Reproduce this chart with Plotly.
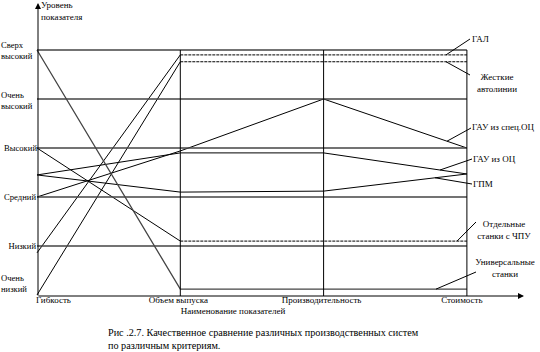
import numpy as np
import plotly.graph_objects as go

# ---------------- data ----------------
criteria = ["Гибкость", "Объем выпуска", "Производительность", "Стоимость"]
level_labels = ["Очень<br>низкий", "Низкий", "Средний", "Высокий", "Очень<br>высокий", "Сверх<br>высокий"]

gal = [0.86, 4.90, 4.90, 4.90]          # ГАЛ
zhest = [0.0, 4.76, 4.76, 4.76]         # Жесткие автолинии
gau_spec = [2.0, 2.94, 4.0, 3.0]        # ГАУ из спец.ОЦ
gau_oc = [2.45, 2.90, 2.90, 2.47]       # ГАУ из ОЦ
gpm = [2.45, 2.10, 2.12, 2.47]          # ГПМ
chpu = [3.0, 1.10, 1.10, 1.10]          # Отдельные станки с ЧПУ
univ = [5.0, 0.12, 0.12, 0.12]          # Универсальные станки

series_names = ["ГАЛ", "Жесткие<br>автолинии", "ГАУ из спец.ОЦ", "ГАУ из ОЦ", "ГПМ",
                "Отдельные<br>станки с ЧПУ", "Универсальные<br>станки"]
series_vals = [gal, zhest, gau_spec, gau_oc, gpm, chpu, univ]

x_title = "Наименование показателей"
y_title = "Уровень<br>показателя"
caption = "Рис .2.7. Качественное сравнение различных производственных систем<br>по различным критериям."

# ---------------- layout helpers ----------------
W, H = 540, 352
X0, UX = 37.0, 143.3      # pixel of x=0, pixels per category
Y0, UY = 295.0, 49.0      # pixel of level 0, pixels per level


def X(px):
    return (px - X0) / UX


def Y(py):
    return (Y0 - py) / UY


FONT = "Liberation Serif, Times New Roman, serif"
xs = list(range(len(criteria)))

dashed = {0, 1, 5}
styles = {6: dict(color="#444", width=1.3)}

fig = go.Figure()

# grid lines
shapes = []
for lv in range(1, len(level_labels)):
    shapes.append(dict(type="line", xref="x", yref="y", x0=0, x1=xs[-1], y0=lv, y1=lv,
                       line=dict(color="#444", width=1.3)))
for xi in xs[1:]:
    shapes.append(dict(type="line", xref="x", yref="y", x0=xi, x1=xi, y0=Y(296), y1=len(level_labels) - 1,
                       line=dict(color="black", width=1)))

# series
for i, vals in enumerate(series_vals):
    st = styles.get(i, dict(color="black", width=1))
    if i in dashed:
        fig.add_trace(go.Scatter(x=xs[:2], y=vals[:2], mode="lines", line=dict(color="black", width=1),
                                 hoverinfo="skip"))
        fig.add_trace(go.Scatter(x=xs[1:], y=vals[1:], mode="lines",
                                 line=dict(color="black", width=1, dash="3px,1px"), hoverinfo="skip"))
    else:
        fig.add_trace(go.Scatter(x=xs, y=vals, mode="lines", line=st, hoverinfo="skip"))


def text(px, py, s, pos="middle right", size=9):
    fig.add_trace(go.Scatter(x=[X(px)], y=[Y(py)], mode="text", text=[s], textposition=pos,
                             textfont=dict(family=FONT, size=size, color="black"), hoverinfo="skip"))


# leader lines + series labels
leaders = [
    (446, (470, 39), (472, 40), "middle right"),
    (446, (470, 75), (497, 84), "middle center"),
    (447, (471, 128), (472, 128), "middle right"),
    (440, (472, 159), (473, 160), "middle right"),
    (435, (472, 184), (473, 185), "middle right"),
    (457, (476, 222), (504, 231), "middle center"),
    (436, (476, 272), (505, 269), "middle center"),
]
annotations = []
for i, (sx, (ex, ey), (tx, ty), pos) in enumerate(leaders):
    vx = X(sx)
    vy = float(np.interp(vx, xs, series_vals[i]))
    shapes.append(dict(type="line", xref="x", yref="y", x0=vx, y0=vy, x1=X(ex), y1=Y(ey),
                       line=dict(color="black", width=1)))
    text(tx, ty, series_names[i], pos=pos)

# axes with arrows
annotations.append(dict(x=X(38), y=Y(3), ax=X(38), ay=Y(297), xref="x", yref="y", axref="x", ayref="y",
                        text="", showarrow=True, arrowhead=2, arrowsize=1.2, arrowwidth=1, arrowcolor="black"))
annotations.append(dict(x=X(524), y=Y(296), ax=X(37), ay=Y(296), xref="x", yref="y", axref="x", ayref="y",
                        text="", showarrow=True, arrowhead=2, arrowsize=1.2, arrowwidth=1, arrowcolor="black"))

# level labels (left)
level_pos = [(1, 284, "middle right"), (36, 247, "middle left"), (36, 198, "middle left"),
             (37, 149, "middle left"), (1, 101, "middle right"), (1, 51, "middle right")]
for lab, (px, py, pos) in zip(level_labels, level_pos):
    text(px, py, lab, pos=pos, size=8.6)

# criteria labels (bottom)
for i, lab in enumerate(criteria):
    cx = X0 + i * UX
    if i == 0:
        text(cx - 1, 301, lab, pos="middle right")
    else:
        text(cx - (5 if i == 3 else 2), 301, lab, pos="middle center")

# axis titles
text(41, 12, y_title)
text(233, 312, x_title, pos="middle center")

# caption
text(108, 340, caption, size=10.2)

fig.update_layout(
    width=W, height=H, margin=dict(l=0, r=0, t=0, b=0),
    paper_bgcolor="white", plot_bgcolor="white", showlegend=False,
    xaxis=dict(visible=False, range=[X(0), X(W)], fixedrange=True),
    yaxis=dict(visible=False, range=[Y(H), Y(0)], fixedrange=True),
    shapes=shapes, annotations=annotations,
)

fig.write_html("out.html")
